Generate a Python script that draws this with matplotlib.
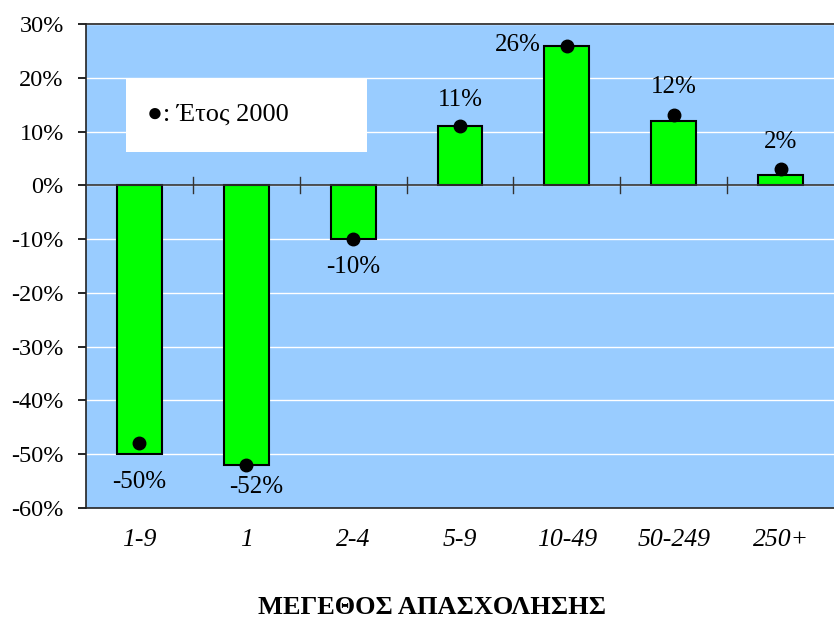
import matplotlib
matplotlib.use("Agg")
import matplotlib.pyplot as plt
from matplotlib.patches import Rectangle

# data
categories = ["1-9", "1", "2-4", "5-9", "10-49", "50-249", "250+"]
change_pct = [-50, -52, -10, 11, 26, 12, 2]
year2000_pct = [-48, -52, -10, 11, 26, 13, 3]
ylim = (-60, 30)

# label placement (pixel offsets from bar end), purely visual
label_offsets = [(0, -28), (10, -22), (0, -28), (0, 26), (-49, 1), (0, 34), (0, 33)]

plt.rcParams["font.family"] = ["Liberation Serif", "DejaVu Serif"]

fig = plt.figure(figsize=(8.34, 6.19), dpi=100)
ax = fig.add_axes([86 / 834, 111 / 619, 748 / 834, 484 / 619])
ax.set_facecolor("#99CCFF")

x = list(range(len(categories)))
ax.set_xlim(-0.5, len(categories) - 0.5)
ax.set_ylim(*ylim)

for y in range(ylim[0], ylim[1] + 1, 10):
    ax.axhline(y, color="white", linewidth=1.0, zorder=1)

# white legend box over the grid
ax.add_patch(Rectangle((0.053, 0.736), 0.323, 0.152, transform=ax.transAxes,
                       facecolor="white", edgecolor="none", zorder=2))
ax.text(0.082, 0.812, "●: Έτος 2000", transform=ax.transAxes, fontsize=19,
        va="center", ha="left", zorder=3)

ax.bar(x, change_pct, width=0.42, color="#00FF00", edgecolor="black",
       linewidth=1.5, zorder=3)
ax.axhline(0, color="#333333", linewidth=1.2, zorder=4)
for b in range(1, len(categories)):
    ax.plot([b - 0.5, b - 0.5], [-1.5, 1.5], color="#333333", linewidth=1.0, zorder=4)
ax.plot(x, year2000_pct, "o", color="black", markersize=9, zorder=5)

for xi, v, (dx, dy) in zip(x, change_pct, label_offsets):
    ax.annotate(f"{v}%", (xi, v), xytext=(dx, dy), textcoords="offset pixels",
                ha="center", va="center", fontsize=18, zorder=6)

ax.set_yticks(range(ylim[0], ylim[1] + 1, 10))
ax.set_yticklabels([f"{t}%" for t in range(ylim[0], ylim[1] + 1, 10)], fontsize=17.5)
ax.tick_params(axis="y", direction="out", length=6, width=1.2, pad=10)
ax.set_xticks(x)
ax.set_xticklabels(categories, fontsize=18.5, style="italic")
ax.tick_params(axis="x", length=0, pad=15)
ax.set_xlabel("ΜΕΓΕΘΟΣ ΑΠΑΣΧΟΛΗΣΗΣ", fontsize=19, fontweight="bold")
ax.xaxis.set_label_coords((432 - 86) / 748, (508 - 608) / 484, transform=ax.transAxes)
ax.xaxis.label.set_va("center")

for side in ("left", "bottom", "top"):
    ax.spines[side].set_linewidth(1.2)
    ax.spines[side].set_color("#222222")
ax.spines["right"].set_visible(False)

fig.savefig("out.png", dpi=100)
